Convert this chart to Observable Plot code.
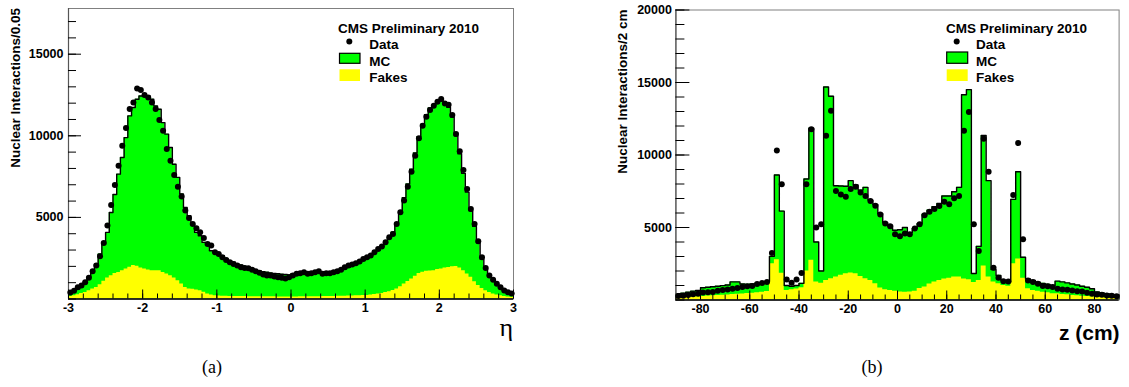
<!DOCTYPE html>
<html>
<head>
<meta charset="utf-8">
<script src="https://cdn.jsdelivr.net/npm/d3@7"></script>
<script src="https://cdn.jsdelivr.net/npm/@observablehq/plot@0.6"></script>
<style>
  html, body { margin: 0; padding: 0; background: #fff; }
  #root { position: relative; width: 1129px; height: 387px; overflow: hidden; background: #fff; }
  .panel { position: absolute; top: 0; }
  .cap { position: absolute; top: 358px; width: 60px; margin-left: -30px; text-align: center;
         font-family: "Liberation Serif", "DejaVu Serif", serif; font-size: 18px; line-height: 18px; color: #000; }
</style>
</head>
<body>
<div id="root"></div>
<script>
// ---------------- Data ----------------
// Panel (a): pseudorapidity, 120 bins of 0.05 from -3 to 3
const etaLow = -3;
const etaBinWidth = 0.05;
const etaMC = [
  450, 520, 620, 800, 1060, 1330, 1730, 2140, 2750, 3370, 4080, 5300, 6400, 7650, 8670, 9890, 11220, 11730, 12240, 12440,
  12500, 12440, 12240, 11830, 11630, 10810, 10100, 9280, 8260, 7450, 6430, 5610, 5100, 4590, 4080, 3880, 3470, 3370, 2960, 2860,
  2800, 2650, 2490, 2350, 2250, 2140, 2080, 2000, 1940, 1870, 1760, 1720, 1680, 1640, 1600, 1570, 1550, 1520, 1500, 1480,
  1550, 1580, 1600, 1640, 1660, 1650, 1640, 1650, 1660, 1650, 1670, 1690, 1720, 1780, 1850, 1950, 2050, 2150, 2250, 2400,
  2500, 2650, 2800, 2980, 3200, 3450, 3750, 4100, 4650, 5400, 6200, 7050, 7950, 8950, 9950, 10700, 11300, 11700, 11850, 12050,
  12150, 11950, 11750, 11150, 10000, 8900, 7700, 6550, 5400, 4450, 3450, 2450, 1850, 1400, 1150, 900, 700, 520, 400, 320
];
const etaFakes = [
  150, 200, 260, 340, 400, 510, 610, 710, 880, 1080, 1280, 1430, 1570, 1630, 1730, 1840, 1940, 2050, 2000, 1900,
  1840, 1770, 1730, 1730, 1730, 1630, 1530, 1430, 1290, 1120, 920, 710, 610, 590, 550, 510, 410, 310, 240, 200,
  180, 170, 165, 160, 160, 155, 150, 150, 145, 145, 140, 140, 140, 135, 135, 135, 130, 130, 130, 130,
  130, 130, 135, 135, 140, 140, 145, 145, 150, 150, 155, 160, 165, 170, 175, 180, 190, 200, 205, 210,
  214, 240, 270, 300, 340, 400, 450, 520, 610, 750, 920, 1070, 1225, 1400, 1570, 1640, 1700, 1720, 1730, 1800,
  1840, 1900, 1930, 1980, 1990, 1900, 1730, 1530, 1330, 1050, 830, 650, 510, 400, 306, 250, 200, 160, 130, 100
];
const etaData = [
  398, 500, 724, 826, 1030, 1296, 1703, 2050, 2621, 3437, 4498, 5763, 6987, 8170, 9394, 10475, 11638, 12046, 12903, 12801,
  12495, 12352, 12046, 11638, 10965, 10312, 9190, 8476, 7599, 6885, 6273, 5416, 4967, 4600, 4335, 4090, 3743, 3376, 3274, 2866,
  2764, 2560, 2397, 2254, 2152, 2050, 1948, 1907, 1887, 1785, 1703, 1601, 1499, 1438, 1438, 1377, 1336, 1296, 1255, 1336,
  1438, 1540, 1581, 1642, 1540, 1581, 1642, 1703, 1540, 1581, 1581, 1642, 1703, 1785, 1948, 2050, 2111, 2193, 2295, 2458,
  2560, 2662, 2866, 3070, 3213, 3478, 3784, 3988, 4600, 5314, 6028, 6885, 7803, 8782, 9843, 10618, 11169, 11577, 11842, 12087,
  12250, 11985, 11903, 11271, 10108, 9047, 7905, 6742, 5518, 4600, 3539, 2560, 1907, 1438, 1173, 928, 724, 520, 420, 330
];

// Panel (b): z position, 90 bins of 2 cm from -90 to 90
const zLow = -90;
const zBinWidth = 2;
const zMC = [
  430, 470, 540, 610, 660, 850, 880, 910, 950, 990, 1030, 1250, 1250, 1100, 1080, 1100, 1150, 1200, 1280,
  3010, 8620, 6130, 1000, 950, 1000, 1150, 8350, 11850, 4000, 2000, 14690, 14050, 7880, 7860, 7840, 8230, 7930, 7580, 7770, 6890, 6590, 5970, 5340, 5160, 4810,
  4850, 5000, 4650, 4930, 5280, 5920, 6200, 6430, 6660, 7170, 7170, 7470, 7770, 14160, 14510, 1830, 3700, 11350, 8230, 2100, 1700, 1350, 1240, 6940, 8850, 2950,
  1450, 1350, 1230, 1150, 1080, 1000, 1300, 1250, 1180, 1100, 1030, 950, 880, 780, 560, 490, 430, 380, 340
];
const zFakes = [
  150, 160, 180, 200, 220, 250, 270, 290, 310, 330, 350, 380, 400, 420, 440, 470, 500, 540, 580,
  2500, 2780, 1850, 650, 700, 760, 850, 2000, 2750, 1250, 1150, 1350, 1470, 1580, 1700, 1810, 1860, 1810, 1620, 1470, 1350, 1120, 820, 700, 660, 610,
  560, 540, 560, 600, 800, 900, 1100, 1250, 1350, 1450, 1500, 1580, 1580, 1450, 1400, 1200, 1350, 2340, 1580, 1240, 1120, 1000, 940, 2500, 2830, 1500,
  770, 660, 610, 540, 500, 430, 430, 380, 360, 310, 290, 265, 240, 220, 200, 175, 150, 125, 105
];
const zData = [
  270, 300, 340, 390, 430, 520, 530, 560, 640, 690, 720, 780, 830, 890, 950, 970, 1100, 1170, 1240,
  3240, 10310, 7980, 1420, 1190, 1420, 1860, 7980, 11780, 5000, 5230, 11320, 13050, 7510, 7280, 7120, 7650, 7810, 7420, 7170, 6820, 6500, 5900, 5280, 5090, 4540,
  4400, 4580, 4540, 4930, 5230, 5850, 6080, 6270, 6480, 6780, 6610, 7010, 7170, 11670, 12960, 5230, 3380, 11120, 8850, 2230, 1540, 1300, 1280, 7240, 10820, 4190,
  1350, 1240, 1120, 960, 940, 890, 770, 730, 700, 660, 610, 590, 500, 430, 380, 360, 310, 290, 265
];

// Tick labels
const etaTickLabels = [-3, -2, -1, 0, 1, 2, 3];
const zTickLabels = [-80, -60, -40, -20, 0, 20, 40, 60, 80];
const etaCountLabels = [5000, 10000, 15000];
const zCountLabels = [5000, 10000, 15000, 20000];
const legendLabels = ["Data", "MC", "Fakes"];
const legendTitle = "CMS Preliminary 2010";

// ---------------- Drawing ----------------
const root = document.getElementById("root");

function makePanel(cfg) {
  const bins = cfg.mc.map((m, i) => ({
    lo: cfg.low + i * cfg.w,
    hi: cfg.low + (i + 1) * cfg.w,
    c: cfg.low + (i + 0.5) * cfg.w,
    mc: m, fk: cfg.fakes[i], dt: cfg.data[i]
  }));
  const stepPts = key => bins.flatMap(b => [{x: b.lo, y: b[key]}, {x: b.hi, y: b[key]}]);
  const mcPts = stepPts("mc");
  const fkPts = stepPts("fk");
  const fmt = d => String(d);
  const svg = Plot.plot({
    width: cfg.width,
    height: 340,
    marginLeft: cfg.ml, marginRight: cfg.mr, marginTop: cfg.mt, marginBottom: cfg.mb,
    x: {domain: cfg.xDomain},
    y: {domain: cfg.yDomain},
    style: "font-family: 'Liberation Sans', Arial, sans-serif; font-size: 12.5px; font-weight: bold; color: #000; background: #fff; overflow: visible;",
    marks: [
      Plot.areaY(mcPts, {x: "x", y1: 0, y2: "y", fill: "#00ff00"}),
      Plot.areaY(fkPts, {x: "x", y1: 0, y2: "y", fill: "#ffff00"}),
      Plot.line(mcPts, {x: "x", y: "y", stroke: "#000", strokeWidth: 1.4}),
      Plot.frame({stroke: "#808080", strokeWidth: 1}),
      Plot.ruleX([cfg.xDomain[0]], {stroke: "#555", strokeWidth: 1.2}),
      Plot.ruleY([cfg.yDomain[0]], {stroke: "#000", strokeWidth: 1.6}),
      Plot.axisY({ticks: cfg.yMinor, tickSize: -cfg.yMinorLen, tickFormat: () => "", label: null}),
      Plot.axisY({ticks: cfg.yMajor, tickSize: -cfg.yMajorLen, tickPadding: cfg.yMajorLen + cfg.yPad, tickFormat: fmt, label: null}),
      Plot.axisX({ticks: cfg.xMinor, tickSize: -cfg.xMinorLen, tickFormat: () => "", label: null}),
      Plot.axisX({ticks: cfg.xMajor, tickSize: -cfg.xMajorLen, tickPadding: cfg.xMajorLen + 4.5, tickFormat: fmt, label: null}),
      Plot.dot(bins, {x: "c", y: "dt", r: 3, fill: "#000", stroke: "none"})
    ]
  });
  svg.classList.add("panel");
  svg.style.left = cfg.left + "px";
  const s = d3.select(svg);
  const font = "'Liberation Sans', Arial, sans-serif";
  // y-axis title (rotated, end at top of frame)
  s.append("text")
    .attr("transform", `translate(${cfg.yTitleX},${cfg.mt}) rotate(-90)`)
    .attr("text-anchor", "end").attr("dy", "0.36em")
    .style("font-family", font).style("font-size", "13.5px").style("font-weight", "bold")
    .text(cfg.yTitle);
  // x-axis title
  const xr = cfg.width - cfg.mr;
  s.append("text")
    .attr("x", xr + cfg.xTitleDx).attr("y", cfg.xTitleY)
    .attr("text-anchor", "end")
    .style("font-family", cfg.xTitleFont).style("font-size", cfg.xTitleSize).style("font-weight", cfg.xTitleWeight)
    .text(cfg.xTitle);
  // legend
  const L = cfg.legend;
  const g = s.append("g").attr("text-anchor", "start")
    .style("font-family", font).style("font-size", "13.5px").style("font-weight", "bold");
  g.append("text").attr("text-anchor", "start").attr("x", L.titleX).attr("y", 32.8).text(legendTitle);
  g.append("circle").attr("cx", L.dotX).attr("cy", 41.5).attr("r", 3).attr("fill", "#000");
  g.append("rect").attr("x", L.boxX).attr("y", L.mcY).attr("width", L.boxW).attr("height", L.mcH)
    .attr("fill", "#00ff00").attr("stroke", "#000").attr("stroke-width", 1.2);
  g.append("rect").attr("x", L.boxX).attr("y", 69.3).attr("width", L.boxW).attr("height", 11.7)
    .attr("fill", "#ffff00");
  g.append("text").attr("text-anchor", "start").attr("x", L.textX).attr("y", 48.6).text(legendLabels[0]);
  g.append("text").attr("text-anchor", "start").attr("x", L.textX).attr("y", 65.6).text(legendLabels[1]);
  g.append("text").attr("text-anchor", "start").attr("x", L.textX).attr("y", 82.4).text(legendLabels[2]);
  root.appendChild(svg);
}

makePanel({
  left: 0, width: 560, ml: 68, mr: 47, mt: 8, mb: 41.5,
  low: etaLow, w: etaBinWidth, mc: etaMC, fakes: etaFakes, data: etaData,
  xDomain: [-3, 3], yDomain: [0, 17800],
  xMajor: etaTickLabels, xMinor: d3.ticks(-3, 3, 30), xMajorLen: 9, xMinorLen: 5,
  yMajor: etaCountLabels, yMinor: d3.ticks(0, 17000, 17), yMajorLen: 13, yMinorLen: 8, yPad: 5,
  yTitle: "Nuclear Interactions/0.05", yTitleX: 15.5,
  xTitle: "η", xTitleDx: 0, xTitleY: 336, xTitleFont: "'Liberation Serif', 'DejaVu Serif', serif", xTitleSize: "26px", xTitleWeight: "normal",
  legend: {titleX: 338, dotX: 349.3, boxX: 339.5, boxW: 20.5, mcY: 53.3, mcH: 10, textX: 369.3}
});

makePanel({
  left: 560, width: 569, ml: 115.4, mr: 10.4, mt: 9.5, mb: 40.5,
  low: zLow, w: zBinWidth, mc: zMC, fakes: zFakes, data: zData,
  xDomain: [-90, 90], yDomain: [0, 20000],
  xMajor: zTickLabels, xMinor: d3.ticks(-90, 90, 36), xMajorLen: 9, xMinorLen: 5,
  yMajor: zCountLabels, yMinor: d3.ticks(0, 20000, 20), yMajorLen: 14, yMinorLen: 9, yPad: 4,
  yTitle: "Nuclear Interactions/2 cm", yTitleX: 62,
  xTitle: "z (cm)", xTitleDx: 1, xTitleY: 340, xTitleFont: "'Liberation Sans', Arial, sans-serif", xTitleSize: "21px", xTitleWeight: "bold",
  legend: {titleX: 386, dotX: 396.7, boxX: 386.7, boxW: 21, mcY: 52, mcH: 11.3, textX: 416}
});

// captions
for (const [txt, x] of [["(a)", 212], ["(b)", 872]]) {
  const d = document.createElement("div");
  d.className = "cap";
  d.style.left = x + "px";
  d.textContent = txt;
  root.appendChild(d);
}
</script>
</body>
</html>
